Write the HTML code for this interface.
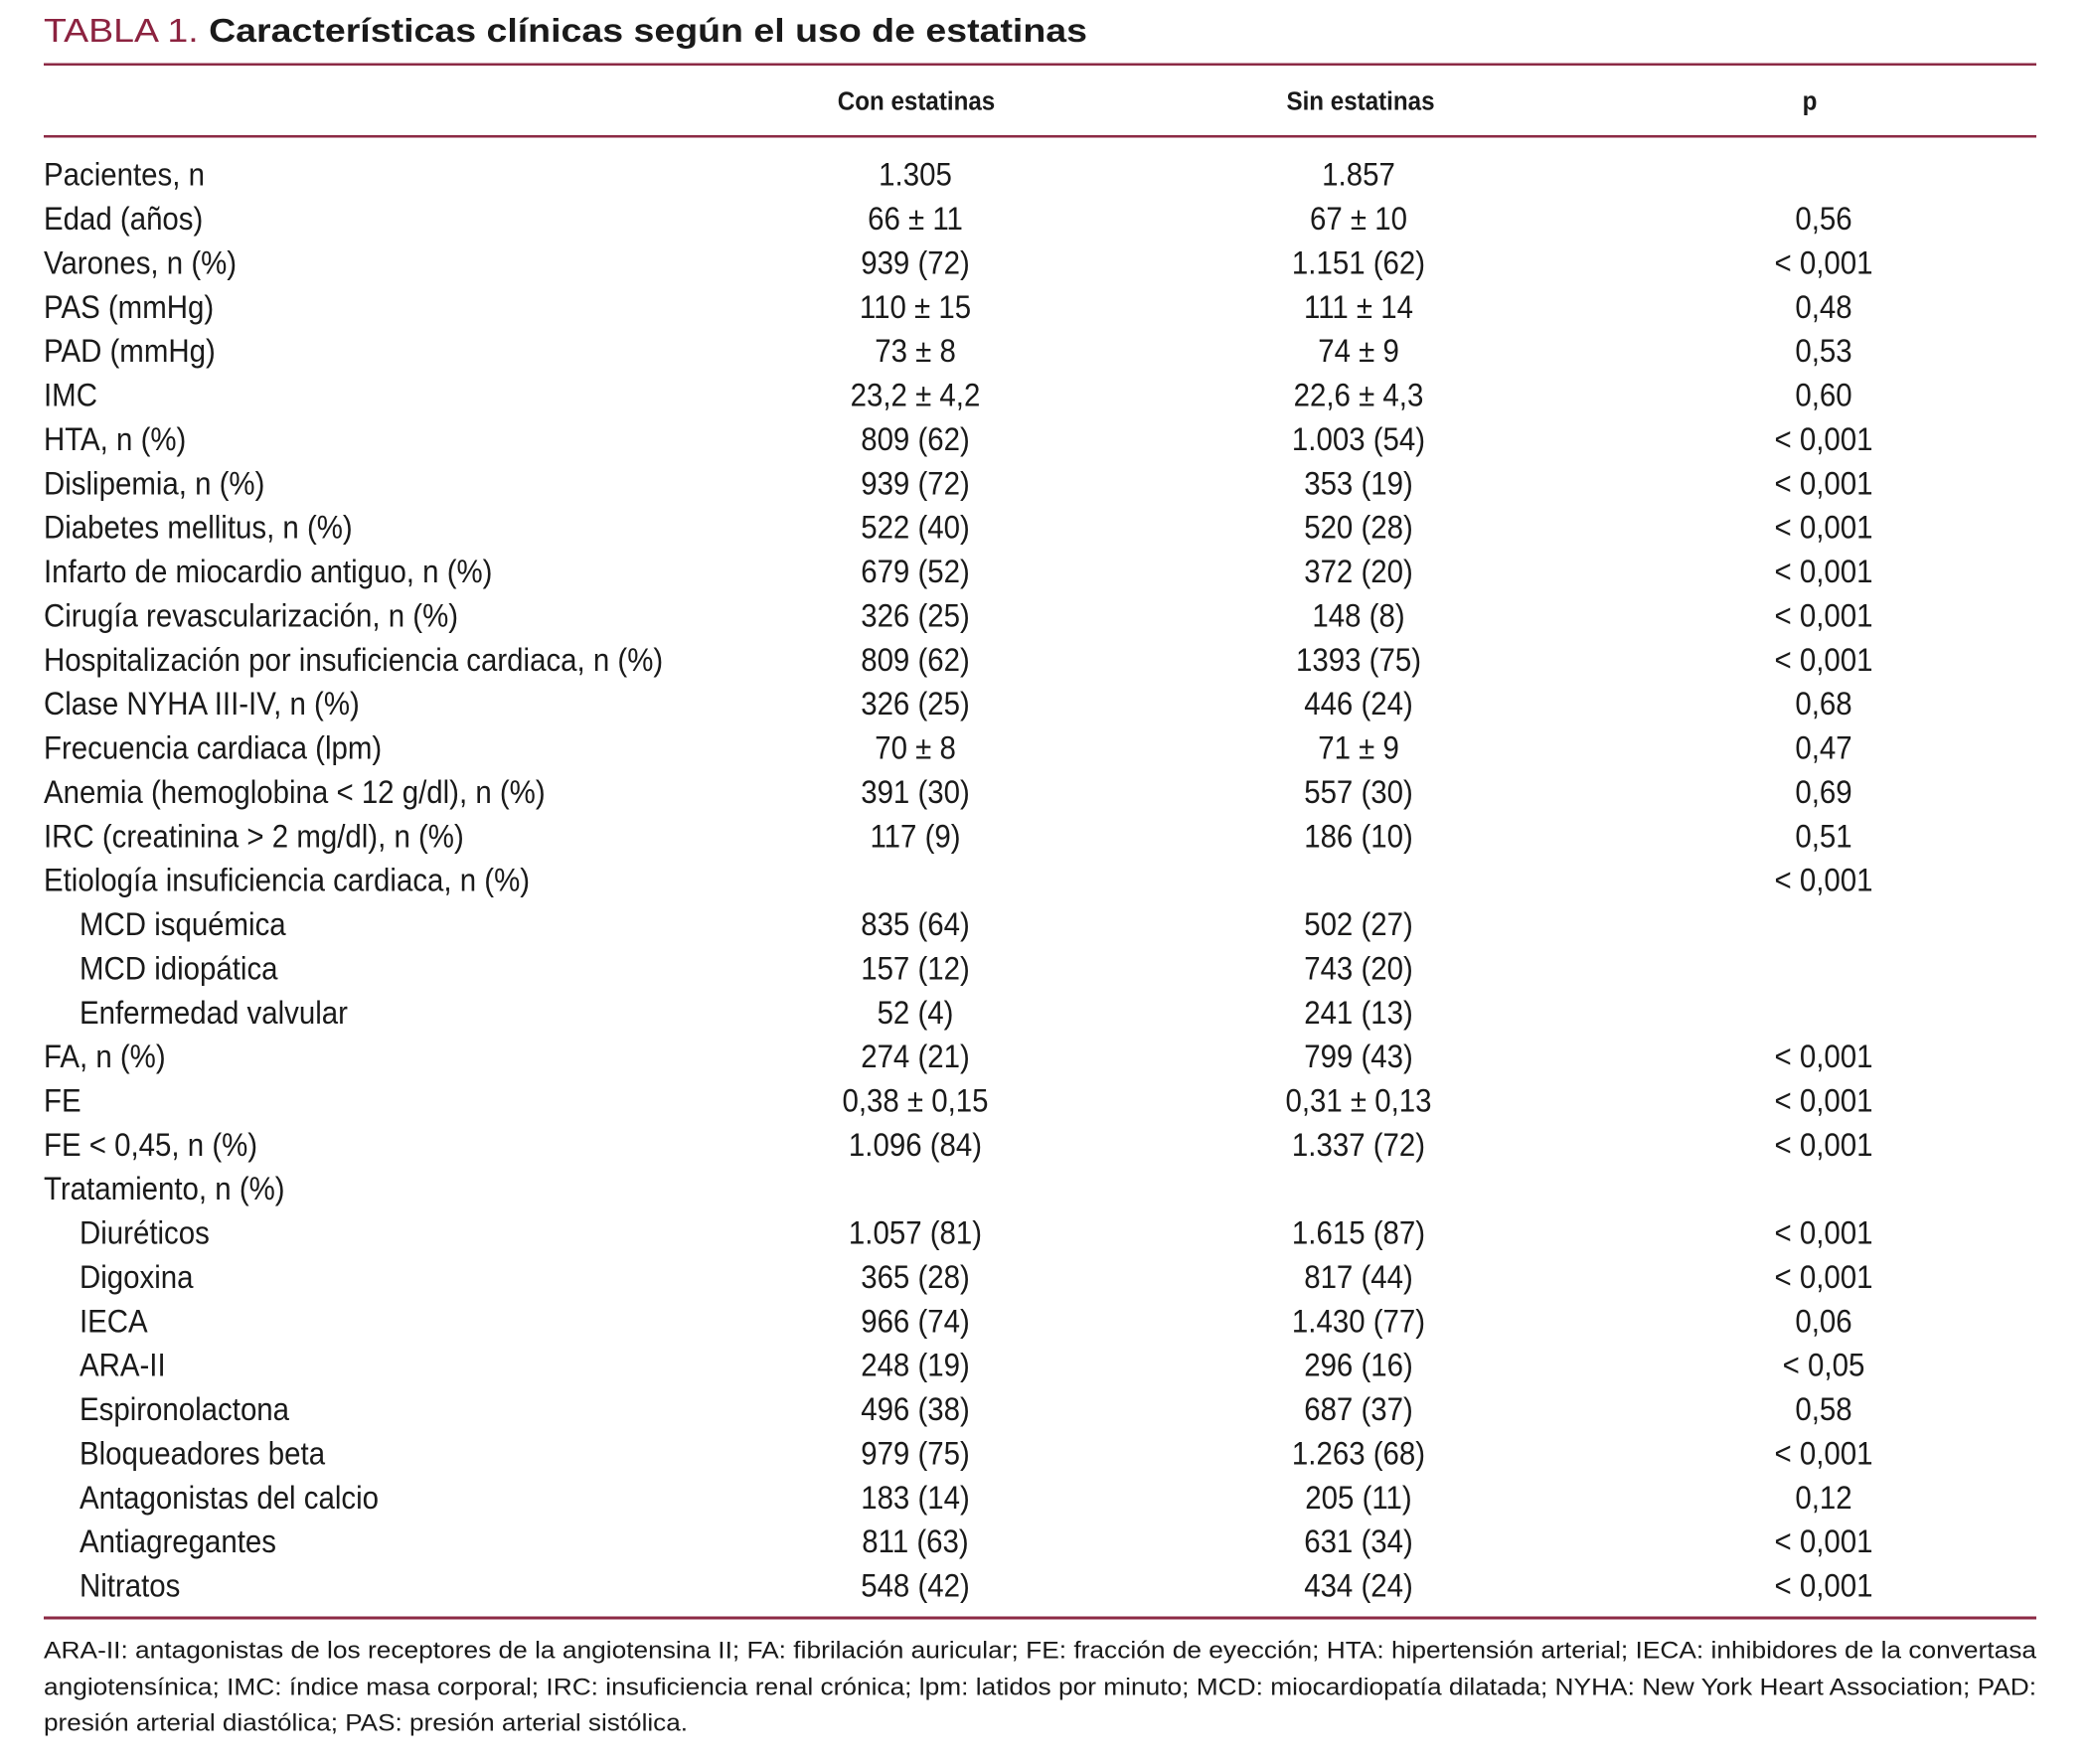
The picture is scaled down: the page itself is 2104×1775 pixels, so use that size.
<!DOCTYPE html>
<html><head><meta charset="utf-8"><style>
html,body{margin:0;padding:0;background:#fff;}
svg{display:block;}
text{font-family:"Liberation Sans Narrow","Liberation Sans",sans-serif;fill:#1a1a1a;}
</style></head><body>
<svg id="s" width="2104" height="1775" viewBox="0 0 2104 1775">
<text x="44" y="30" dominant-baseline="central" font-size="33" textLength="1050" lengthAdjust="spacingAndGlyphs"><tspan fill="#8c2340" style="fill:#8c2340">TABLA 1.</tspan><tspan font-weight="bold"> Características clínicas según el uso de estatinas</tspan></text>
<rect x="44" y="63.5" width="2005" height="2.5" fill="#8c2a45"/>
<text transform="translate(922,102) scale(0.93,1)" text-anchor="middle" dominant-baseline="central" font-size="26" font-weight="bold">Con estatinas</text>
<text transform="translate(1369,102) scale(0.93,1)" text-anchor="middle" dominant-baseline="central" font-size="26" font-weight="bold">Sin estatinas</text>
<text transform="translate(1821,102) scale(0.93,1)" text-anchor="middle" dominant-baseline="central" font-size="26" font-weight="bold">p</text>
<rect x="44" y="136" width="2005" height="2.5" fill="#8c2a45"/>
<g id="rows"></g>
<rect x="44" y="1626.5" width="2005" height="3" fill="#8c2a45"/>
<g font-size="24">
<text x="44" y="1661" dominant-baseline="central" textLength="2005" lengthAdjust="spacingAndGlyphs">ARA-II: antagonistas de los receptores de la angiotensina II; FA: fibrilación auricular; FE: fracción de eyección; HTA: hipertensión arterial; IECA: inhibidores de la convertasa</text>
<text x="44" y="1698" dominant-baseline="central" textLength="2005" lengthAdjust="spacingAndGlyphs">angiotensínica; IMC: índice masa corporal; IRC: insuficiencia renal crónica; lpm: latidos por minuto; MCD: miocardiopatía dilatada; NYHA: New York Heart Association; PAD:</text>
<text x="44" y="1734" dominant-baseline="central" textLength="648" lengthAdjust="spacingAndGlyphs">presión arterial diastólica; PAS: presión arterial sistólica.</text>
</g>
</svg>
<script>
const labels=["Pacientes, n","Edad (años)","Varones, n (%)","PAS (mmHg)","PAD (mmHg)","IMC","HTA, n (%)","Dislipemia, n (%)","Diabetes mellitus, n (%)","Infarto de miocardio antiguo, n (%)","Cirugía revascularización, n (%)","Hospitalización por insuficiencia cardiaca, n (%)","Clase NYHA III-IV, n (%)","Frecuencia cardiaca (lpm)","Anemia (hemoglobina < 12 g/dl), n (%)","IRC (creatinina > 2 mg/dl), n (%)","Etiología insuficiencia cardiaca, n (%)","MCD isquémica","MCD idiopática","Enfermedad valvular","FA, n (%)","FE","FE < 0,45, n (%)","Tratamiento, n (%)","Diuréticos","Digoxina","IECA","ARA-II","Espironolactona","Bloqueadores beta","Antagonistas del calcio","Antiagregantes","Nitratos"];
const indent=[0,0,0,0,0,0,0,0,0,0,0,0,0,0,0,0,0,1,1,1,0,0,0,0,1,1,1,1,1,1,1,1,1];
const conVals=["1.305","66 ± 11","939 (72)","110 ± 15","73 ± 8","23,2 ± 4,2","809 (62)","939 (72)","522 (40)","679 (52)","326 (25)","809 (62)","326 (25)","70 ± 8","391 (30)","117 (9)","","835 (64)","157 (12)","52 (4)","274 (21)","0,38 ± 0,15","1.096 (84)","","1.057 (81)","365 (28)","966 (74)","248 (19)","496 (38)","979 (75)","183 (14)","811 (63)","548 (42)"];
const sinVals=["1.857","67 ± 10","1.151 (62)","111 ± 14","74 ± 9","22,6 ± 4,3","1.003 (54)","353 (19)","520 (28)","372 (20)","148 (8)","1393 (75)","446 (24)","71 ± 9","557 (30)","186 (10)","","502 (27)","743 (20)","241 (13)","799 (43)","0,31 ± 0,13","1.337 (72)","","1.615 (87)","817 (44)","1.430 (77)","296 (16)","687 (37)","1.263 (68)","205 (11)","631 (34)","434 (24)"];
const pVals=["","0,56","< 0,001","0,48","0,53","0,60","< 0,001","< 0,001","< 0,001","< 0,001","< 0,001","< 0,001","0,68","0,47","0,69","0,51","< 0,001","","","","< 0,001","< 0,001","< 0,001","","< 0,001","< 0,001","0,06","< 0,05","0,58","< 0,001","0,12","< 0,001","< 0,001"];
const NS="http://www.w3.org/2000/svg";
const g=document.getElementById("rows");
const y0=175.8, pitch=44.37;
function txt(x,y,s,anchor){const t=document.createElementNS(NS,"text");t.setAttribute("transform","translate("+x+","+y+") scale(0.92,1)");t.setAttribute("dominant-baseline","central");t.setAttribute("font-size","32");t.setAttribute("text-anchor",anchor);t.textContent=s;return t;}
labels.forEach((lab,i)=>{
  const y=y0+i*pitch;
  const row=document.createElementNS(NS,"g");
  
  
  const a=txt(indent[i]?80:44,y,lab,"start");
  
  
  row.appendChild(a);
  const b=txt(921,y,conVals[i],"middle");
  
  
  row.appendChild(b);
  const c=txt(1367,y,sinVals[i],"middle");
  
  
  row.appendChild(c);
  const d=txt(1835,y,pVals[i],"middle");
  
  
  row.appendChild(d);
  g.appendChild(row);
});
</script>
</body></html>
